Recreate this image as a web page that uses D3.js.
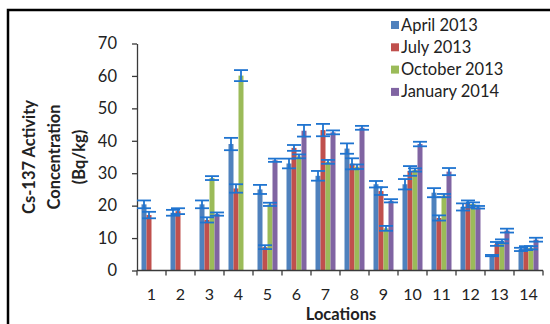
<!DOCTYPE html>
<html>
<head>
<meta charset="utf-8">
<script src="https://cdn.jsdelivr.net/npm/d3@7"></script>
<style>
  html, body { margin: 0; padding: 0; background: #fff; }
  svg { display: block; }
  text { font-family: Lato, "Open Sans", sans-serif; fill: #222; }
</style>
</head>
<body>
<svg id="chart" width="550" height="324"></svg>
<script>
// Cs-137 activity concentration (Bq/kg) per sampling location and campaign
const locations = ["1","2","3","4","5","6","7","8","9","10","11","12","13","14"];
const seriesNames = ["April 2013", "July 2013", "October 2013", "January 2014"];

const april2013   = [20.4, 17.8, 20.4, 39.0, 25.0, 33.0, 29.2, 37.6, 26.6, 26.6, 24.0, 19.6, 4.6, 6.5];
const april2013Err = [1.2, 0.9, 1.2, 1.9, 1.4, 1.5, 1.5, 1.6, 1.0, 1.6, 1.4, 1.1, 0.2, 0.5];
const july2013    = [17.1, 18.3, 15.6, 25.3, 7.2, 37.8, 43.3, 32.9, 24.5, 30.7, 16.2, 20.5, 8.2, 6.9];
const july2013Err = [1.0, 0.9, 0.8, 1.3, 0.6, 0.9, 1.9, 1.7, 1.2, 1.5, 0.8, 1.1, 0.6, 0.6];
const october2013 = [null, null, 28.5, 60.1, 20.4, 35.2, 33.5, 32.0, 13.0, 31.0, 23.1, 20.5, 9.0, 7.0];
const october2013Err = [null, null, 0.6, 1.7, 0.5, 0.6, 0.6, 0.7, 0.75, 0.5, 0.5, 0.5, 0.6, 0.5];
const january2014 = [null, null, 17.4, null, 34.0, 43.1, 42.6, 44.0, 21.5, 39.0, 30.5, 19.5, 12.3, 9.5];
const january2014Err = [null, null, 0.5, null, 0.5, 1.8, 0.6, 0.6, 0.5, 0.7, 1.1, 0.4, 0.6, 0.6];

const yTicks = [0, 10, 20, 30, 40, 50, 60, 70];
const colors = ["#4F81BD", "#C0504D", "#9BBB59", "#8064A2"];
const errColor = "#1F74D0";

const seriesValues = [april2013, july2013, october2013, january2014];
const seriesErrors = [april2013Err, july2013Err, october2013Err, january2014Err];

const svg = d3.select("#chart");

// outer frame (left and top edges visible)
svg.append("path")
  .attr("d", "M8,330V10H560")
  .attr("fill", "none")
  .attr("stroke", "#000")
  .attr("stroke-width", 2.5);

const plotLeft = 137, plotRight = 543, plotTop = 43.5, plotBottom = 270.5;

const x = d3.scaleBand().domain(locations).range([plotLeft, plotRight]).padding(0);
const groupWidth = 20;
const xs = d3.scaleBand().domain(seriesNames).range([0, groupWidth]).padding(0);
const y = d3.scaleLinear().domain([0, 70]).range([plotBottom, plotTop]);

// bars
const bars = [];
seriesValues.forEach((vals, si) => {
  vals.forEach((v, li) => {
    if (v !== null) bars.push({ s: si, loc: locations[li], v: v, e: seriesErrors[si][li] });
  });
});

const gx = d => x(d.loc) + (x.bandwidth() - groupWidth) / 2 + xs(seriesNames[d.s]);

svg.append("g").selectAll("rect").data(bars).join("rect")
  .attr("x", d => gx(d))
  .attr("y", d => y(d.v))
  .attr("width", xs.bandwidth())
  .attr("height", d => y(0) - y(d.v))
  .attr("fill", d => colors[d.s]);

// axes
const axisColor = "#3a3a3a";
const yAxis = svg.append("g")
  .attr("transform", `translate(${plotLeft},0)`)
  .call(d3.axisLeft(y).tickValues(yTicks).tickSize(5).tickPadding(15).tickSizeOuter(0));
yAxis.select(".domain").attr("stroke", axisColor).attr("stroke-width", 1.3);
yAxis.selectAll(".tick line").attr("stroke", axisColor).attr("stroke-width", 1.3);
yAxis.selectAll(".tick text")
  .attr("font-size", 16.5).attr("font-family", "Lato, sans-serif").attr("fill", "#222");

// category boundaries for x tick marks
const boundaries = locations.map(l => x(l)).concat([x(locations[locations.length - 1]) + x.bandwidth()]);
const xAxisG = svg.append("g");
xAxisG.append("line")
  .attr("x1", plotLeft).attr("x2", plotRight).attr("y1", plotBottom).attr("y2", plotBottom)
  .attr("stroke", axisColor).attr("stroke-width", 1.3);
xAxisG.selectAll("line.tk").data(boundaries).join("line")
  .attr("class", "tk")
  .attr("x1", d => d).attr("x2", d => d)
  .attr("y1", plotBottom).attr("y2", plotBottom + 5)
  .attr("stroke", axisColor).attr("stroke-width", 1.3);
xAxisG.selectAll("text").data(locations).join("text")
  .attr("x", d => x(d) + x.bandwidth() / 2)
  .attr("y", 299.5)
  .attr("text-anchor", "middle")
  .attr("font-size", 16)
  .text(d => d);

// error bars
const capHalf = 7;
const eb = svg.append("g").attr("stroke", errColor).attr("stroke-width", 1.8).attr("fill", "none");
bars.filter(d => d.e !== null).forEach(d => {
  const cx = gx(d) + xs.bandwidth() / 2;
  const y1 = y(d.v + d.e), y2 = y(d.v - d.e);
  eb.append("line").attr("x1", cx).attr("x2", cx).attr("y1", y1).attr("y2", y2);
  eb.append("line").attr("x1", cx - capHalf).attr("x2", cx + capHalf).attr("y1", y1).attr("y2", y1);
  eb.append("line").attr("x1", cx - capHalf).attr("x2", cx + capHalf).attr("y1", y2).attr("y2", y2);
});

// axis titles
svg.append("text")
  .attr("x", (plotLeft + plotRight) / 2 + 1)
  .attr("y", 320)
  .attr("text-anchor", "middle")
  .attr("font-size", 16.5)
  .attr("font-weight", "bold")
  .text("Locations");

const yTitle = ["Cs-137 Activity", "Concentration", "(Bq/kg)"];
svg.append("g")
  .attr("transform", `translate(0,${(plotTop + plotBottom) / 2}) rotate(-90)`)
  .selectAll("text").data(yTitle).join("text")
  .attr("x", 0)
  .attr("y", (d, i) => 35 + i * 25)
  .attr("text-anchor", "middle")
  .attr("font-size", 16.5)
  .attr("font-weight", "bold")
  .text(d => d);

// legend
const legend = svg.append("g");
seriesNames.forEach((name, i) => {
  const cy = 25 + i * 22.3;
  legend.append("rect")
    .attr("x", 391).attr("y", cy - 4).attr("width", 8).attr("height", 8)
    .attr("fill", colors[i]);
  legend.append("text")
    .attr("x", 401).attr("y", cy + 5.5)
    .attr("font-size", 16.5)
    .text(name);
});
</script>
</body>
</html>
